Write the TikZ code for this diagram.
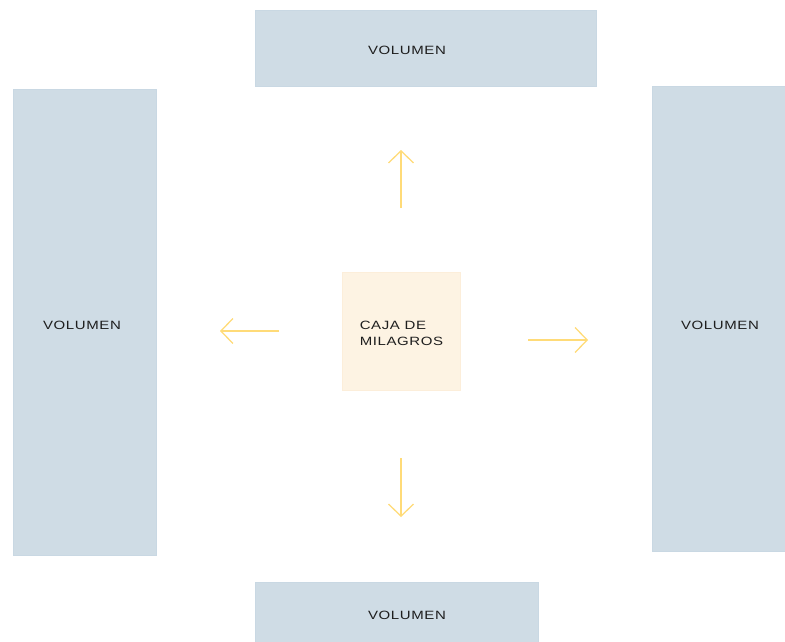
\documentclass[tikz,border=0pt]{standalone}
\usepackage{fontspec}
\usepackage{xcolor}
\usepackage{tikz}
\usetikzlibrary{positioning,arrows.meta}
\newfontfamily\diagfont[FakeStretch=1.25,LetterSpace=5]{Liberation Sans}
\definecolor{volfill}{HTML}{CFDCE5}
\definecolor{voledge}{HTML}{C9D8E3}
\definecolor{cajafill}{HTML}{FDF3E3}
\definecolor{cajaedge}{HTML}{FCEEDA}
\definecolor{arrowcol}{HTML}{FFDB78}
\definecolor{textcol}{HTML}{1E1E1E}
\begin{document}
\begin{tikzpicture}[x=1pt, y=-1pt,
      block/.style={rectangle, draw=voledge, fill=volfill, line width=0.8pt, inner sep=0pt},
      caja/.style={rectangle, draw=cajaedge, fill=cajafill, line width=0.8pt, inner sep=0pt, minimum width=118pt, minimum height=118pt},
      label/.style={text=textcol, inner sep=0pt, font=\diagfont\fontsize{12}{16}\selectfont},
      line/.style={draw=arrowcol, line width=1.3pt, -{Straight Barb[length=12pt, width=25pt, line width=1.3pt]}}
    ]
    \useasboundingbox (0,0) rectangle (785,642);

    \node [block, minimum width=341pt, minimum height=76pt] (top) at (425.5,48) {};
    \node [block, minimum width=143pt, minimum height=466pt] (left) at (84.5,322) {};
    \node [block, minimum width=133pt, minimum height=465pt] (right) at (718.5,318.5) {};
    \node [block, minimum width=283pt, minimum height=62pt] (bottom) at (396.5,613) {};
    \node [caja] (caja) at (401,331) {};

    \node [label] (toptext) at (407,50) {VOLUMEN};
    \node [label] (lefttext) at (82,325) {VOLUMEN};
    \node [label] (righttext) at (720,325) {VOLUMEN};
    \node [label] (bottomtext) at (407,615) {VOLUMEN};
    \node [label, align=left] (cajatext) at (401.5,333) {CAJA DE\\MILAGROS};

    \coordinate (upstart) at (401,208);
    \coordinate (upend) at (401,150);
    \coordinate (leftstart) at (279,331);
    \coordinate (leftend) at (220,331);
    \coordinate (rightstart) at (528,340);
    \coordinate (rightend) at (588,340);
    \coordinate (downstart) at (401,458);
    \coordinate (downend) at (401,517);

    \path [line] (upstart) -- (upend);
    \path [line] (leftstart) -- (leftend);
    \path [line] (rightstart) -- (rightend);
    \path [line] (downstart) -- (downend);

\end{tikzpicture}
\end{document}
